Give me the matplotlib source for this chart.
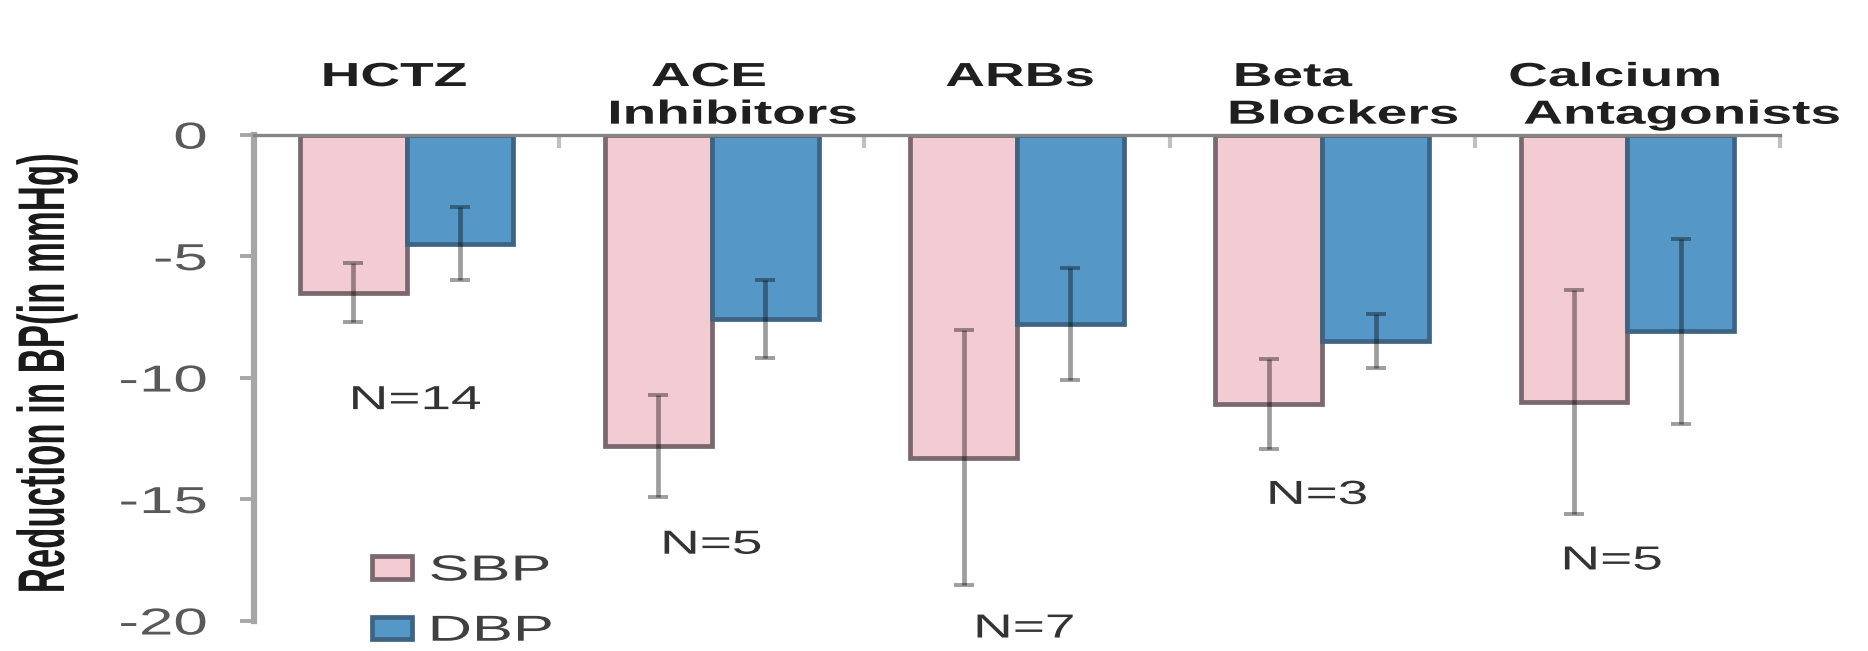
import numpy as np
import matplotlib
matplotlib.use('Agg')
import matplotlib.pyplot as plt
from matplotlib import patheffects
from matplotlib.path import Path
from matplotlib.transforms import Affine2D

plt.rcParams['font.family'] = ['Liberation Sans', 'DejaVu Sans']
plt.rcParams['axes.unicode_minus'] = False

# Data
categories = ['HCTZ', 'ACE\nInhibitors', 'ARBs', 'Beta\nBlockers', 'Calcium\nAntagonists']
sbp = [-6.5, -12.8, -13.3, -11.1, -11.0]
sbp_err = [1.2, 2.1, 5.25, 1.85, 4.6]
dbp = [-4.5, -7.6, -7.8, -8.5, -8.1]
dbp_err = [1.5, 1.6, 2.3, 1.1, 3.8]
n_labels = ['N=14', 'N=5', 'N=7', 'N=3', 'N=5']
y_ticks = [0, -5, -10, -15, -20]

# Label placement (data units)
name_dx = [[-0.04], [-0.01, 0.07], [0.01], [-0.095, 0.07], [-0.04, 0.18]]
name_base = [2.0, 0.45]
n_dx = [0.03, 0.0, 0.025, -0.015, -0.05]
n_base = [-11.3, -17.25, -20.7, -15.2, -17.9]


# Widens glyphs horizontally, pivoting on the left/right edge or the centre
class Widen(patheffects.AbstractPathEffect):
    def __init__(self, factor=1.65, anchor='center'):
        super().__init__()
        self.factor = factor
        self.anchor = anchor

    def draw_path(self, renderer, gc, tpath, affine, rgbFace=None):
        verts = tpath.vertices
        if tpath.codes is not None:
            verts = verts[tpath.codes != Path.CLOSEPOLY]
        if len(verts):
            xs = affine.transform(verts)[:, 0]
            if self.anchor == 'left':
                x0 = xs.min()
            elif self.anchor == 'right':
                x0 = xs.max()
            else:
                x0 = (xs.min() + xs.max()) / 2
            affine = affine + Affine2D().translate(-x0, 0).scale(self.factor, 1).translate(x0, 0)
        renderer.draw_path(gc, tpath, affine, rgbFace)


fig = plt.figure(figsize=(18.68, 6.51), dpi=100)
ax = fig.add_axes([254 / 1868, 1 - 620.5 / 651, 1526 / 1868, 485.9 / 651])

x = np.arange(len(categories))
w = 0.35
ax.bar(x - w / 2, sbp, w, color='#F2CBD3', edgecolor='#7a686e', linewidth=3.4, label='SBP', zorder=2)
ax.bar(x + w / 2, dbp, w, color='#5598C7', edgecolor='#3e6483', linewidth=3.4, label='DBP', zorder=2)

eb = dict(fmt='none', ecolor='black', alpha=0.38, elinewidth=3.4, capsize=7, capthick=2.8, zorder=3)
ax.errorbar(x - w / 2, sbp, yerr=sbp_err, **eb)
ax.errorbar(x + w / 2, dbp, yerr=dbp_err, **eb)

ax.set_xlim(-0.5, len(categories) - 0.5)
ax.set_ylim(-20, 0)

# axis styling
for s in ['bottom', 'right']:
    ax.spines[s].set_visible(False)
ax.spines['left'].set_color('#a6a6a6')
ax.spines['left'].set_linewidth(4.5)
ax.spines['top'].set_color('#858585')
ax.spines['top'].set_linewidth(2.4)

ax.set_yticks(y_ticks)
ax.set_yticklabels([str(t) for t in y_ticks])
ax.tick_params(axis='y', direction='out', length=10, width=2.8, color='#a6a6a6',
               labelsize=27, labelcolor='#595959', pad=24)
for lbl in ax.get_yticklabels():
    lbl.set_path_effects([Widen(anchor='right')])

ax.xaxis.set_ticks_position('top')
ax.set_xticks(np.arange(len(categories) + 1) - 0.5)
ax.set_xticklabels([])
ax.tick_params(axis='x', direction='in', length=9, width=3, color='#c0c0c0')

ax.set_ylabel('Reduction in BP(in mmHg)', fontsize=25, fontweight='bold', color='#1a1a1a', va='center')
ax.yaxis.set_label_coords(-0.136, 0.509)
ax.yaxis.label.set_path_effects([Widen(factor=1.9)])

# drug class names above the zero line
for i, name in enumerate(categories):
    for j, line in enumerate(name.split('\n')):
        ax.text(i + name_dx[i][j], name_base[j], line, ha='center', va='baseline',
                fontsize=24, fontweight='bold', color='#1f1f1f',
                path_effects=[Widen()])

# sample sizes
for i, lab in enumerate(n_labels):
    ax.text(i + n_dx[i], n_base[i], lab, ha='center', va='baseline',
            fontsize=24, color='#333333', path_effects=[Widen()])

leg = ax.legend(loc='upper left', bbox_to_anchor=(0.0773, 0.138), frameon=False,
                fontsize=26, handlelength=1.1, handleheight=0.6, handletextpad=0.5,
                labelspacing=0.7, borderpad=0, borderaxespad=0)
for t in leg.get_texts():
    t.set_color('#404040')
    t.set_path_effects([Widen(factor=1.7, anchor='left')])

fig.savefig('out.png', dpi=100)
